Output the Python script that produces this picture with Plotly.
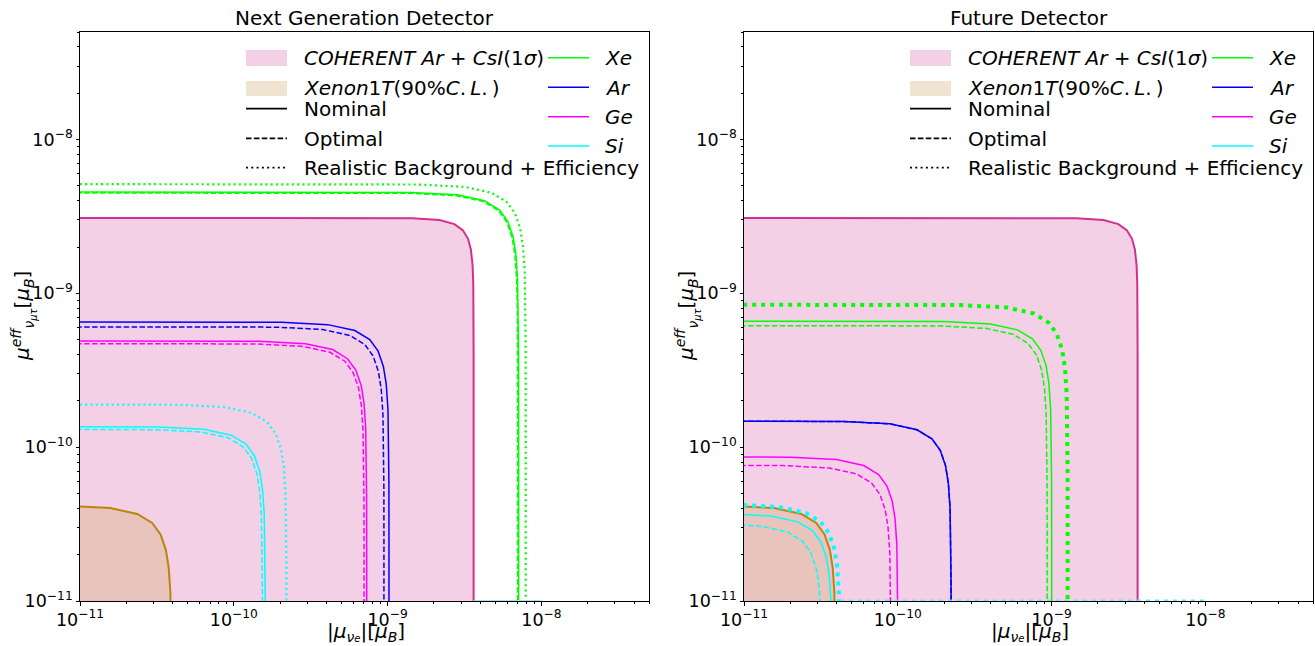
import math
import plotly.graph_objects as go

W, H = 1315, 646

# ---------------- data ----------------
# shared bands (identical in both panels)
coh_x = [1e-12, 7.24e-10, 1.448e-9, 2.172e-9, 2.715e-9, 3.077e-9, 3.33e-9, 3.475e-9, 3.566e-9, 3.602e-9, 3.616e-9, 3.6196e-9, 3.62e-9]
coh_y = [3.1e-9, 3.099e-9, 3.08e-9, 2.994e-9, 2.819e-9, 2.578e-9, 2.262e-9, 1.932e-9, 1.526e-9, 1.165e-9, 7.8e-10, 4.38e-10, 1e-12]
x1t_x = [1e-12, 7.86e-12, 1.572e-11, 2.358e-11, 2.948e-11, 3.341e-11, 3.616e-11, 3.773e-11, 3.871e-11, 3.91e-11, 3.926e-11, 3.9296e-11, 3.93e-11]
x1t_y = [4.2e-11, 4.17e-11, 4.02e-11, 3.68e-11, 3.22e-11, 2.71e-11, 2.15e-11, 1.65e-11, 1.13e-11, 7.3e-12, 3.8e-12, 1.5e-12, 1e-12]
corner = [1e-12]

# Next Generation Detector
ng_xe_solid_x = [1e-12, 1.42e-9, 2.84e-9, 4.26e-9, 5.33e-9, 6.04e-9, 6.53e-9, 6.82e-9, 6.99e-9, 7.06e-9, 7.09e-9, 7.099e-9, 7.1e-9]
ng_xe_solid_y = [4.56e-9, 4.53e-9, 4.37e-9, 4.0e-9, 3.49e-9, 2.94e-9, 2.34e-9, 1.79e-9, 1.22e-9, 7.9e-10, 4.15e-10, 1.64e-10, 1e-12]
ng_xe_dash_x = [1e-12, 1.4e-9, 2.8e-9, 4.2e-9, 5.25e-9, 5.95e-9, 6.44e-9, 6.72e-9, 6.9e-9, 6.97e-9, 6.99e-9, 6.999e-9, 7.0e-9]
ng_xe_dash_y = [4.5e-9, 4.47e-9, 4.31e-9, 3.95e-9, 3.45e-9, 2.9e-9, 2.31e-9, 1.77e-9, 1.21e-9, 7.8e-10, 4.1e-10, 1.62e-10, 1e-12]
ng_xe_dot_x = [1e-12, 1.58e-9, 3.16e-9, 4.74e-9, 5.93e-9, 6.72e-9, 7.27e-9, 7.58e-9, 7.78e-9, 7.86e-9, 7.89e-9, 7.899e-9, 7.9e-9]
ng_xe_dot_y = [5.14e-9, 5.1e-9, 4.92e-9, 4.51e-9, 3.94e-9, 3.32e-9, 2.64e-9, 2.02e-9, 1.38e-9, 8.9e-10, 4.68e-10, 1.85e-10, 1e-12]
ng_ar_solid_x = [1e-12, 2.04e-10, 4.08e-10, 6.12e-10, 7.65e-10, 8.67e-10, 9.38e-10, 9.79e-10, 1.005e-9, 1.015e-9, 1.019e-9, 1.0199e-9, 1.02e-9]
ng_ar_solid_y = [6.53e-10, 6.48e-10, 6.26e-10, 5.73e-10, 5.0e-10, 4.21e-10, 3.35e-10, 2.57e-10, 1.75e-10, 1.13e-10, 5.94e-11, 2.35e-11, 1e-12]
ng_ar_dash_x = [1e-12, 1.89e-10, 3.78e-10, 5.68e-10, 7.1e-10, 8.04e-10, 8.7e-10, 9.08e-10, 9.32e-10, 9.41e-10, 9.45e-10, 9.459e-10, 9.46e-10]
ng_ar_dash_y = [6.07e-10, 6.03e-10, 5.82e-10, 5.32e-10, 4.65e-10, 3.92e-10, 3.11e-10, 2.39e-10, 1.63e-10, 1.05e-10, 5.52e-11, 2.19e-11, 1e-12]
ng_ge_solid_x = [1e-12, 1.46e-10, 2.92e-10, 4.39e-10, 5.48e-10, 6.21e-10, 6.73e-10, 7.02e-10, 7.2e-10, 7.27e-10, 7.3e-10, 7.309e-10, 7.31e-10]
ng_ge_solid_y = [4.91e-10, 4.88e-10, 4.7e-10, 4.31e-10, 3.76e-10, 3.17e-10, 2.52e-10, 1.93e-10, 1.32e-10, 8.5e-11, 4.47e-11, 1.77e-11, 1e-12]
ng_ge_dash_x = [1e-12, 1.41e-10, 2.81e-10, 4.22e-10, 5.27e-10, 5.98e-10, 6.47e-10, 6.75e-10, 6.92e-10, 6.99e-10, 7.02e-10, 7.029e-10, 7.03e-10]
ng_ge_dash_y = [4.72e-10, 4.69e-10, 4.52e-10, 4.14e-10, 3.62e-10, 3.04e-10, 2.42e-10, 1.85e-10, 1.26e-10, 8.2e-11, 4.3e-11, 1.7e-11, 1e-12]
ng_si_solid_x = [1e-12, 3.2e-11, 6.4e-11, 9.6e-11, 1.2e-10, 1.36e-10, 1.472e-10, 1.536e-10, 1.576e-10, 1.592e-10, 1.598e-10, 1.5998e-10, 1.6e-10]
ng_si_solid_y = [1.365e-10, 1.355e-10, 1.308e-10, 1.197e-10, 1.046e-10, 8.8e-11, 7.0e-11, 5.36e-11, 3.66e-11, 2.36e-11, 1.24e-11, 4.9e-12, 1e-12]
ng_si_dash_x = [1e-12, 3.07e-11, 6.14e-11, 9.21e-11, 1.151e-10, 1.305e-10, 1.412e-10, 1.474e-10, 1.512e-10, 1.527e-10, 1.533e-10, 1.5348e-10, 1.535e-10]
ng_si_dash_y = [1.31e-10, 1.3e-10, 1.255e-10, 1.149e-10, 1.003e-10, 8.45e-11, 6.72e-11, 5.15e-11, 3.51e-11, 2.27e-11, 1.19e-11, 4.7e-12, 1e-12]
ng_si_dot_x = [1e-12, 4.4e-11, 8.8e-11, 1.32e-10, 1.65e-10, 1.87e-10, 2.024e-10, 2.112e-10, 2.167e-10, 2.189e-10, 2.198e-10, 2.1998e-10, 2.2e-10]
ng_si_dot_y = [1.9e-10, 1.887e-10, 1.82e-10, 1.666e-10, 1.455e-10, 1.226e-10, 9.75e-11, 7.47e-11, 5.09e-11, 3.29e-11, 1.73e-11, 6.8e-12, 1e-12]
ng_edge_x = [3.62e-9, 1e-8]

# Future Detector
fd_xe_solid_x = [1e-12, 2e-10, 4e-10, 6e-10, 7.5e-10, 8.5e-10, 9.2e-10, 9.6e-10, 9.85e-10, 9.95e-10, 9.99e-10, 9.999e-10, 1e-9]
fd_xe_solid_y = [6.6e-10, 6.55e-10, 6.32e-10, 5.79e-10, 5.06e-10, 4.26e-10, 3.39e-10, 2.59e-10, 1.77e-10, 1.14e-10, 6.0e-11, 2.38e-11, 1e-12]
fd_xe_dash_x = [1e-12, 1.87e-10, 3.74e-10, 5.61e-10, 7.01e-10, 7.95e-10, 8.6e-10, 8.98e-10, 9.21e-10, 9.3e-10, 9.34e-10, 9.349e-10, 9.35e-10]
fd_xe_dash_y = [6.18e-10, 6.14e-10, 5.92e-10, 5.42e-10, 4.73e-10, 3.99e-10, 3.17e-10, 2.43e-10, 1.66e-10, 1.07e-10, 5.62e-11, 2.22e-11, 1e-12]
fd_xe_dot_x = [1e-12, 2.54e-10, 5.08e-10, 7.62e-10, 9.53e-10, 1.08e-9, 1.168e-9, 1.219e-9, 1.251e-9, 1.264e-9, 1.269e-9, 1.2699e-9, 1.27e-9]
fd_xe_dot_y = [8.45e-10, 8.39e-10, 8.1e-10, 7.41e-10, 6.47e-10, 5.45e-10, 4.33e-10, 3.32e-10, 2.26e-10, 1.46e-10, 7.7e-11, 3.04e-11, 1e-12]
fd_ar_x = [1e-12, 4.44e-11, 8.88e-11, 1.332e-10, 1.665e-10, 1.887e-10, 2.042e-10, 2.131e-10, 2.187e-10, 2.209e-10, 2.218e-10, 2.2198e-10, 2.22e-10]
fd_ar_y = [1.48e-10, 1.47e-10, 1.418e-10, 1.298e-10, 1.134e-10, 9.55e-11, 7.59e-11, 5.82e-11, 3.97e-11, 2.56e-11, 1.35e-11, 5.3e-12, 1e-12]
fd_ge_solid_x = [1e-12, 2e-11, 4e-11, 6e-11, 7.5e-11, 8.5e-11, 9.2e-11, 9.6e-11, 9.85e-11, 9.95e-11, 9.99e-11, 9.999e-11, 1e-10]
fd_ge_solid_y = [8.67e-11, 8.61e-11, 8.31e-11, 7.6e-11, 6.64e-11, 5.59e-11, 4.45e-11, 3.41e-11, 2.32e-11, 1.5e-11, 7.9e-12, 3.1e-12, 1e-12]
fd_ge_dash_x = [1e-12, 1.8e-11, 3.6e-11, 5.4e-11, 6.75e-11, 7.65e-11, 8.28e-11, 8.64e-11, 8.87e-11, 8.96e-11, 8.99e-11, 8.999e-11, 9.0e-11]
fd_ge_dash_y = [7.64e-11, 7.59e-11, 7.32e-11, 6.7e-11, 5.85e-11, 4.93e-11, 3.92e-11, 3.0e-11, 2.05e-11, 1.32e-11, 6.95e-12, 2.75e-12, 1e-12]
fd_si_solid_x = [1e-12, 7.46e-12, 1.492e-11, 2.238e-11, 2.798e-11, 3.171e-11, 3.432e-11, 3.581e-11, 3.674e-11, 3.711e-11, 3.726e-11, 3.7296e-11, 3.73e-11]
fd_si_solid_y = [3.73e-11, 3.70e-11, 3.57e-11, 3.27e-11, 2.86e-11, 2.41e-11, 1.91e-11, 1.47e-11, 1.0e-11, 6.45e-12, 3.4e-12, 1.3e-12, 1e-12]
fd_si_dash_x = [1e-12, 6.4e-12, 1.28e-11, 1.92e-11, 2.4e-11, 2.72e-11, 2.944e-11, 3.072e-11, 3.152e-11, 3.184e-11, 3.197e-11, 3.1997e-11, 3.2e-11]
fd_si_dash_y = [3.2e-11, 3.18e-11, 3.07e-11, 2.81e-11, 2.45e-11, 2.06e-11, 1.64e-11, 1.26e-11, 8.6e-12, 5.5e-12, 2.9e-12, 1.2e-12, 1e-12]
fd_si_dot_x = [1e-12, 8.4e-12, 1.68e-11, 2.52e-11, 3.15e-11, 3.57e-11, 3.864e-11, 4.032e-11, 4.137e-11, 4.179e-11, 4.196e-11, 4.1996e-11, 4.2e-11]
fd_si_dot_y = [4.27e-11, 4.24e-11, 4.09e-11, 3.74e-11, 3.27e-11, 2.75e-11, 2.19e-11, 1.68e-11, 1.14e-11, 7.4e-12, 3.9e-12, 1.5e-12, 1e-12]
fd_edge_x = [4.2e-11, 1e-8]

# contour tails lying on the lower boundary of the scanned grid
edge_y = [1e-11, 1e-11]

titles = ["Next Generation Detector", "Future Detector"]
legend_col1 = ["<i>COHERENT Ar</i> + <i>CsI</i>(1<i>σ</i>)",
               "<i>Xenon</i>1<i>T</i>(90%<i>C</i>.\u2009<i>L</i>.\u2009)",
               "Nominal", "Optimal", "Realistic Background + Efficiency"]
legend_col2 = ["Xe", "Ar", "Ge", "Si"]

# ---------------- styles ----------------
C_XE, C_AR, C_GE, C_SI = "#00ff00", "#0000ff", "#ff00ff", "#00ffff"
C_COH_FILL, C_COH_EDGE = "#f4d0e6", "#d2308f"
C_X1T_FILL, C_X1T_EDGE, C_X1T_LEG = "#e8c4bc", "#b8860b", "#f0e4d0"
DASH = "5.5px,2.4px"
DOT_THIN = "2px,3.3px"
DOT_THICK = "4px,5px"
FONT = "DejaVu Sans"

fig = go.Figure()

panels = [
    dict(xa="x", ya="y", curves=[
        (ng_xe_solid_x, ng_xe_solid_y, C_XE, 1.5, "solid"),
        (ng_xe_dash_x, ng_xe_dash_y, C_XE, 1.5, DASH),
        (ng_xe_dot_x, ng_xe_dot_y, C_XE, 2.2, DOT_THIN),
        (ng_ar_solid_x, ng_ar_solid_y, C_AR, 1.5, "solid"),
        (ng_ar_dash_x, ng_ar_dash_y, C_AR, 1.5, DASH),
        (ng_ge_solid_x, ng_ge_solid_y, C_GE, 1.5, "solid"),
        (ng_ge_dash_x, ng_ge_dash_y, C_GE, 1.5, DASH),
        (ng_si_solid_x, ng_si_solid_y, C_SI, 1.5, "solid"),
        (ng_si_dash_x, ng_si_dash_y, C_SI, 1.5, DASH),
        (ng_si_dot_x, ng_si_dot_y, C_SI, 2.2, DOT_THIN),
    ], edge=(ng_edge_x, "#9fe8f0", 2, "solid")),
    dict(xa="x2", ya="y2", curves=[
        (fd_xe_solid_x, fd_xe_solid_y, C_XE, 1.5, "solid"),
        (fd_xe_dash_x, fd_xe_dash_y, C_XE, 1.5, DASH),
        (fd_xe_dot_x, fd_xe_dot_y, C_XE, 4, DOT_THICK),
        (fd_ar_x, fd_ar_y, C_AR, 1.5, "solid"),
        (fd_ar_x, fd_ar_y, C_AR, 1.5, DASH),
        (fd_ge_solid_x, fd_ge_solid_y, C_GE, 1.5, "solid"),
        (fd_ge_dash_x, fd_ge_dash_y, C_GE, 1.5, DASH),
        (fd_si_solid_x, fd_si_solid_y, C_SI, 1.5, "solid"),
        (fd_si_dash_x, fd_si_dash_y, C_SI, 1.5, DASH),
        (fd_si_dot_x, fd_si_dot_y, C_SI, 4, DOT_THICK),
    ], edge=(fd_edge_x, "#66e8f0", 3, DOT_THICK)),
]

for p in panels:
    fig.add_trace(go.Scatter(x=coh_x + corner, y=coh_y + corner, mode="lines", fill="toself",
                             fillcolor=C_COH_FILL, line=dict(color=C_COH_EDGE, width=2),
                             xaxis=p["xa"], yaxis=p["ya"], showlegend=False, hoverinfo="skip"))
    fig.add_trace(go.Scatter(x=x1t_x + corner, y=x1t_y + corner, mode="lines", fill="toself",
                             fillcolor=C_X1T_FILL, line=dict(color=C_X1T_EDGE, width=2),
                             xaxis=p["xa"], yaxis=p["ya"], showlegend=False, hoverinfo="skip"))
    for cx, cy, col, wdt, dash in p["curves"]:
        fig.add_trace(go.Scatter(x=cx, y=cy, mode="lines", line=dict(color=col, width=wdt, dash=dash),
                                 xaxis=p["xa"], yaxis=p["ya"], showlegend=False, hoverinfo="skip"))
    ex, ecol, ew, ed = p["edge"]
    fig.add_trace(go.Scatter(x=ex, y=edge_y, mode="lines", line=dict(color=ecol, width=ew, dash=ed),
                             xaxis=p["xa"], yaxis=p["ya"], showlegend=False, hoverinfo="skip"))

# ---------------- axes ----------------
RANGE = [-11, math.log10(5e-8)]
PLOT_L = [80, 744]
PLOT_W = 569
TOP, BOT = 32, 601


def axis(domain, anchor):
    return dict(type="log", range=RANGE, domain=domain, anchor=anchor, automargin=False,
                showline=True, linecolor="black", linewidth=1, mirror=True,
                ticks="outside", ticklen=3.5, tickwidth=0.8, tickcolor="black",
                dtick=1, exponentformat="power", showgrid=False, zeroline=False,
                tickfont=dict(family=FONT, size=14, color="black"),
                minor=dict(ticks="outside", ticklen=2, tickwidth=0.6, tickcolor="black",
                           dtick="D1", showgrid=False))


ydom = [(H - BOT) / H, (H - TOP) / H]
fig.update_layout(
    template="none",
    width=W, height=H, margin=dict(l=0, r=0, t=0, b=0, autoexpand=False),
    paper_bgcolor="white", plot_bgcolor="white", showlegend=False,
    xaxis=axis([PLOT_L[0] / W, (PLOT_L[0] + PLOT_W) / W], "y"),
    yaxis=axis(ydom, "x"),
    xaxis2=axis([PLOT_L[1] / W, (PLOT_L[1] + PLOT_W) / W], "y2"),
    yaxis2=axis(ydom, "x2"),
)


def px(x):
    return x / W


def py(y):
    return 1 - y / H


shapes, annos = [], []
xlabel = ("|<i>μ</i><sub><i>ν</i><span style='font-size:10px'><i>e</i></span></sub>|"
          "[<i>μ</i><sub><i>B</i></sub>]")
ylabel = "<i>μ</i><sup><i>eff</i></sup><sub><i>ν</i><sub><i>μτ</i></sub></sub>[<i>μ</i><sub><i>B</i></sub>]"

for i, left in enumerate(PLOT_L):
    dx = left - PLOT_L[0]
    cx = left + PLOT_W / 2
    annos.append(dict(x=px(cx), y=py(18), xref="paper", yref="paper", text=titles[i], showarrow=False,
                      xanchor="center", yanchor="middle", font=dict(family=FONT, size=20, color="black")))
    annos.append(dict(x=px(cx + 1), y=0, xref="paper", yref="paper", text=xlabel, showarrow=False,
                      xanchor="center", yanchor="bottom", borderpad=0,
                      font=dict(family=FONT, size=20, color="black")))
    annos.append(dict(x=px(left - 57), y=py(316), xref="paper", yref="paper", text=ylabel, showarrow=False,
                      textangle=-90, xanchor="center", yanchor="middle",
                      font=dict(family=FONT, size=20, color="black")))
    # legend column 1
    for (y0, y1, col) in [(50, 66, C_COH_FILL), (81, 96, C_X1T_LEG)]:
        shapes.append(dict(type="rect", xref="paper", yref="paper", x0=px(246 + dx), x1=px(287 + dx),
                           y0=py(y1), y1=py(y0), fillcolor=col, line=dict(width=0)))
    for (yy, dash, wdt) in [(108.7, "solid", 1.8), (138.3, DASH, 1.8), (167.7, DOT_THIN, 1.8)]:
        shapes.append(dict(type="line", xref="paper", yref="paper", x0=px(246 + dx), x1=px(287 + dx),
                           y0=py(yy), y1=py(yy), line=dict(color="black", width=wdt, dash=dash)))
    for txt, yy in zip(legend_col1, [58, 88, 109, 139, 168]):
        annos.append(dict(x=px(302 + dx), y=py(yy), xref="paper", yref="paper", text=txt, showarrow=False,
                          xanchor="left", yanchor="middle", font=dict(family=FONT, size=20, color="black")))
    # legend column 2
    for txt, col, yy in zip(legend_col2, [C_XE, C_AR, C_GE, C_SI], [57.7, 87.3, 116.7, 146]):
        shapes.append(dict(type="line", xref="paper", yref="paper", x0=px(548 + dx), x1=px(589 + dx),
                           y0=py(yy), y1=py(yy), line=dict(color=col, width=1.5)))
        annos.append(dict(x=px(603 + dx), y=py(yy + 0.5), xref="paper", yref="paper",
                          text="<i>" + txt + "</i>", showarrow=False,
                          xanchor="left", yanchor="middle", font=dict(family=FONT, size=20, color="black")))

fig.update_layout(shapes=shapes, annotations=annos)
fig.write_html("out.html", config={"displayModeBar": False},
               post_script="document.body.style.margin='0px';document.body.style.overflow='hidden';")
